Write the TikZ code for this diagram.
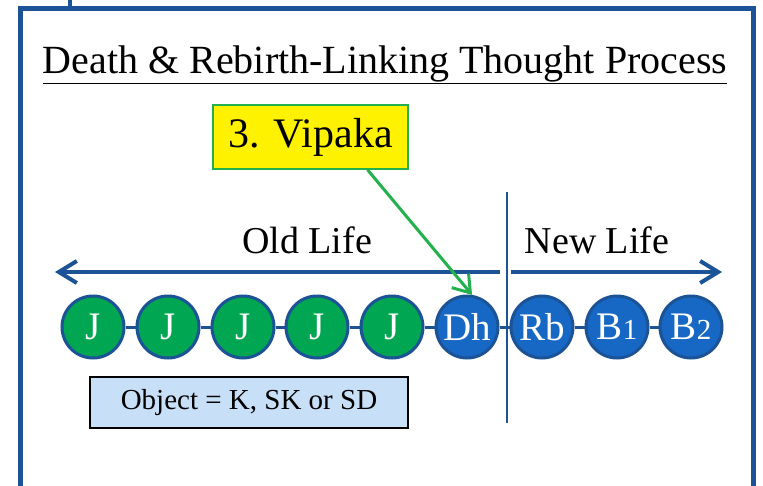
\documentclass[tikz,border=0pt]{standalone}
\usepackage{fontspec}
\setmainfont{Liberation Serif}
\usepackage{tikz}
\usetikzlibrary{arrows.meta}
\definecolor{frameblue}{RGB}{28,82,150}
\definecolor{ballblue}{RGB}{22,104,196}
\definecolor{ballgreen}{RGB}{0,166,81}
\definecolor{arrowgreen}{RGB}{34,177,76}
\definecolor{objfill}{RGB}{199,223,247}
\tikzset{
  ball/.style={circle,draw=frameblue,line width=3pt,minimum size=62pt,inner sep=0pt,
    text=white,font=\fontsize{39}{39}\selectfont},
  jball/.style={ball,fill=ballgreen},
  bball/.style={ball,fill=ballblue},
  lifearrow/.style={frameblue,line width=4pt,-{Straight Barb[length=18pt,width=22pt]}},
  chain/.style={frameblue,line width=3pt},
  lifelabel/.style={anchor=base,font=\fontsize{38}{38}\selectfont}
}
\begin{document}
\begin{tikzpicture}[x=1pt,y=-1pt]
  \useasboundingbox (0,0) rectangle (763,485);
  \fill[white] (0,0) rectangle (763,485);
  \begin{scope}
    \clip (0,0) rectangle (763,485);
    \draw[frameblue,line width=5pt] (20,8) rectangle (753,500);
    \draw[frameblue,line width=4pt] (70,0) -- (70,8);
  \end{scope}
  \node (title) at (385,65) {\fontsize{40}{40}\selectfont\underline{Death \& Rebirth-Linking Thought Process}};
  \node [draw=arrowgreen,line width=1.5pt,fill=yellow,minimum width=195pt,minimum height=64pt,
    font=\fontsize{42}{42}\selectfont](vipaka) at (310.5,137) {3. Vipaka};
  \node [lifelabel](old) at (307,253) {Old Life};
  \node [lifelabel](new) at (597,253) {New Life};
  \coordinate (oldstart) at (500,272);
  \coordinate (oldtip) at (55,272);
  \coordinate (newstart) at (511,272);
  \coordinate (newtip) at (722,272);
  \coordinate (divtop) at (507,192);
  \coordinate (divbot) at (507,423);
  \draw[lifearrow] (oldstart) -- (oldtip);
  \draw[lifearrow] (newstart) -- (newtip);
  \draw[frameblue,line width=1.5pt] (divtop) -- (divbot);
  \node [jball](J1) at (93,327) {J};
  \node [jball](J2) at (168,327) {J};
  \node [jball](J3) at (243,327) {J};
  \node [jball](J4) at (317,327) {J};
  \node [jball](J5) at (392,327) {J};
  \node [bball](Dh) at (467,327) {Dh};
  \node [bball](Rb) at (542,327) {Rb};
  \node [bball](B1) at (617,327) {B{\fontsize{29}{29}\selectfont 1}};
  \node [bball](B2) at (691,327) {B{\fontsize{29}{29}\selectfont 2}};
  \draw[chain] (J1) -- (J2);
  \draw[chain] (J2) -- (J3);
  \draw[chain] (J3) -- (J4);
  \draw[chain] (J4) -- (J5);
  \draw[chain] (J5) -- (Dh);
  \draw[chain] (Dh) -- (Rb);
  \draw[chain] (Rb) -- (B1);
  \draw[chain] (B1) -- (B2);
  \draw[arrowgreen,line width=3pt,-{Straight Barb[length=16pt,width=22pt]}]
    ([xshift=57pt]vipaka.south) -- (Dh.81);
  \node [draw=black,line width=1.5pt,fill=objfill,minimum width=318pt,minimum height=51pt,
    font=\fontsize{29}{29}\selectfont](object) at (249,402.5) {Object = K, SK or SD};
\end{tikzpicture}
\end{document}
